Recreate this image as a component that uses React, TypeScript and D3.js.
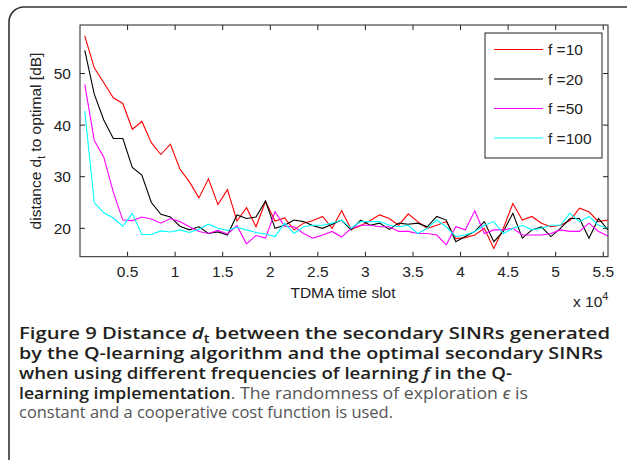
import React from "react";
import * as d3 from "d3";

// TDMA time slots where the distance was sampled
const slots = [
  500, 1500, 2500, 3500, 4500, 5500, 6500, 7500, 8500, 9500,
  10500, 11500, 12500, 13500, 14500, 15500, 16500, 17500, 18500, 19500,
  20500, 21500, 22500, 23500, 24500, 25500, 26500, 27500, 28500, 29500,
  30500, 31500, 32500, 33500, 34500, 35500, 36500, 37500, 38500, 39500,
  40500, 41500, 42500, 43500, 44500, 45500, 46500, 47500, 48500, 49500,
  50500, 51500, 52500, 53500, 54500, 55500,
];

const f10 = [
  57.3, 51.1, 48.2, 45.3, 44.2, 39.2, 40.7, 36.6, 34.3, 36.3,
  31.5, 29.0, 25.9, 29.6, 24.6, 27.5, 21.4, 24.0, 20.3, 25.2,
  21.4, 22.0, 19.7, 21.0, 21.5, 22.3, 20.0, 23.4, 19.8, 20.5,
  21.5, 22.6, 21.9, 20.6, 22.8, 21.3, 20.0, 20.6, 21.3, 18.0,
  18.2, 18.7, 20.0, 16.1, 20.0, 24.8, 21.6, 22.3, 21.0, 20.3,
  20.6, 21.5, 23.9, 23.2, 21.3, 21.6,
];
const f20 = [
  54.5, 46.0, 41.0, 37.4, 37.4, 31.8, 30.3, 25.0, 22.7, 22.2,
  20.4, 19.7, 20.3, 19.0, 19.3, 18.7, 22.6, 21.9, 22.2, 25.3,
  20.0, 20.6, 21.6, 21.3, 20.5, 20.0, 20.8, 21.6, 19.7, 21.6,
  20.6, 21.0, 19.8, 21.0, 20.8, 21.0, 20.3, 22.3, 21.6, 17.4,
  18.4, 19.4, 21.3, 17.4, 19.4, 22.9, 18.1, 19.7, 20.3, 18.4,
  20.0, 21.9, 21.9, 18.1, 21.9, 19.7,
];
const f50 = [
  47.9, 37.0, 33.8, 27.0, 21.6, 21.5, 22.2, 21.8, 21.0, 21.9,
  21.3, 20.3, 19.4, 19.0, 19.6, 18.9, 20.5, 17.0, 18.6, 18.1,
  23.2, 20.4, 20.3, 19.0, 18.1, 18.7, 19.4, 18.3, 20.0, 20.6,
  20.6, 20.3, 20.3, 19.4, 19.4, 19.0, 19.0, 18.7, 16.8, 20.3,
  19.7, 23.4, 19.0, 19.7, 19.7, 20.0, 18.7, 18.7, 18.7, 19.0,
  19.7, 19.4, 19.4, 21.0, 19.4, 18.5,
];
const f100 = [
  42.7, 25.0, 23.0, 22.0, 20.4, 22.9, 18.8, 18.8, 19.5, 19.3,
  19.7, 19.2, 19.8, 20.8, 20.0, 19.6, 20.2, 19.7, 19.2, 18.9,
  18.4, 21.0, 19.0, 20.3, 20.6, 20.6, 21.0, 21.6, 20.0, 21.3,
  21.3, 21.3, 20.6, 20.3, 20.6, 19.0, 20.0, 21.6, 20.3, 18.4,
  18.7, 19.4, 20.6, 21.3, 19.0, 20.0, 20.6, 19.7, 20.0, 20.6,
  20.6, 22.9, 21.3, 22.3, 20.6, 20.0,
];

const seriesNames = ["f =10", "f =20", "f =50", "f =100"];
const seriesColors = ["#ff0000", "#000000", "#ff00ff", "#00ffff"];
const seriesValues = [f10, f20, f50, f100];

const xTicks = [5000, 10000, 15000, 20000, 25000, 30000, 35000, 40000, 45000, 50000, 55000];
const yTicks = [20, 30, 40, 50];

const W = 627;
const H = 460;
const plot = { left: 80, right: 608, top: 25, bottom: 256.7 };
const axisFont = "'Liberation Sans', Arial, sans-serif";
const capFont = "'Open Sans', 'Noto Sans', sans-serif";

export default function App() {
  const x = d3.scaleLinear().domain([0, 55500]).range([plot.left, plot.right]);
  const y = d3.scaleLinear().domain([14.5, 59.4]).range([plot.bottom, plot.top]);

  const line = d3
    .line<number>()
    .x((_, i) => x(slots[i]))
    .y((d) => y(d));

  const legendX = 485;
  const legendY = 33;
  const legendRow = 29.5;

  return (
    <div style={{ position: "absolute", left: 0, top: 0 }}>
      <svg width={W} height={H} style={{ display: "block", background: "#fff" }}>
        {/* outer rounded frame */}
        <rect x={9} y={7} width={640} height={470} rx={15} fill="none" stroke="#333" strokeWidth={1.6} />

        {/* data */}
        <g fill="none" strokeWidth={1.1}>
          {seriesValues.map((vals, k) => (
            <path key={k} d={line(vals) || ""} stroke={seriesColors[k]} />
          ))}
        </g>

        {/* axes box */}
        <rect
          x={plot.left}
          y={plot.top}
          width={plot.right - plot.left}
          height={plot.bottom - plot.top}
          fill="none"
          stroke="#222"
          strokeWidth={1}
        />
        <g stroke="#222" strokeWidth={1}>
          {xTicks.map((t) => (
            <g key={t}>
              <line x1={x(t)} x2={x(t)} y1={plot.bottom} y2={plot.bottom - 5} />
              <line x1={x(t)} x2={x(t)} y1={plot.top} y2={plot.top + 5} />
            </g>
          ))}
          {yTicks.map((t) => (
            <g key={t}>
              <line x1={plot.left} x2={plot.left + 5} y1={y(t)} y2={y(t)} />
              <line x1={plot.right} x2={plot.right - 5} y1={y(t)} y2={y(t)} />
            </g>
          ))}
        </g>
        <g fontFamily={axisFont} fontSize={15.5} fill="#222">
          {xTicks.map((t) => (
            <text key={t} x={x(t)} y={277} textAnchor="middle">
              {t / 10000}
            </text>
          ))}
          {yTicks.map((t) => (
            <text key={t} x={71} y={y(t)} textAnchor="end" dominantBaseline="central">
              {t}
            </text>
          ))}
          <text x={343} y={298} textAnchor="middle">TDMA time slot</text>
          <text x={573} y={307}>
            x 10<tspan dy={-7} fontSize={11}>4</tspan>
          </text>
          <text transform="translate(41,141) rotate(-90)" textAnchor="middle">
            distance d<tspan dy={4} fontSize={10}>t</tspan>
            <tspan dy={-4}> to optimal [dB]</tspan>
          </text>
        </g>

        {/* legend */}
        <rect x={legendX} y={legendY} width={117} height={125} fill="#fff" stroke="#222" strokeWidth={1} />
        <g fontFamily={axisFont} fontSize={15.5} fill="#222">
          {seriesNames.map((name, k) => {
            const cy = legendY + 16.5 + k * legendRow;
            return (
              <g key={name}>
                <line x1={494} x2={543} y1={cy} y2={cy} stroke={seriesColors[k]} strokeWidth={1.1} />
                <text x={548} y={cy} dominantBaseline="central">{name}</text>
              </g>
            );
          })}
        </g>

        {/* caption */}
        <g fontFamily={capFont} fontSize={16.5}>
          <text x={19} y={339} fill="#231f20" fontWeight={600} textLength={591} lengthAdjust="spacingAndGlyphs">
            Figure 9 Distance <tspan fontStyle="italic">d</tspan>
            <tspan dy={4} fontSize={12}>t</tspan>
            <tspan dy={-4}> between the secondary SINRs generated</tspan>
          </text>
          <text x={19} y={359} fill="#231f20" fontWeight={600} textLength={584} lengthAdjust="spacingAndGlyphs">
            by the Q-learning algorithm and the optimal secondary SINRs
          </text>
          <text x={19} y={379} fill="#231f20" fontWeight={600} textLength={493} lengthAdjust="spacingAndGlyphs">
            when using different frequencies of learning <tspan fontStyle="italic">f</tspan> in the Q-
          </text>
          <text x={19} y={399} fill="#555" textLength={509} lengthAdjust="spacingAndGlyphs">
            <tspan fontWeight={600} fill="#231f20">learning implementation</tspan>. The randomness of exploration{" "}
            <tspan fontStyle="italic">ϵ</tspan> is
          </text>
          <text x={19} y={418} fill="#555" textLength={374} lengthAdjust="spacingAndGlyphs">
            constant and a cooperative cost function is used.
          </text>
        </g>
      </svg>
    </div>
  );
}
